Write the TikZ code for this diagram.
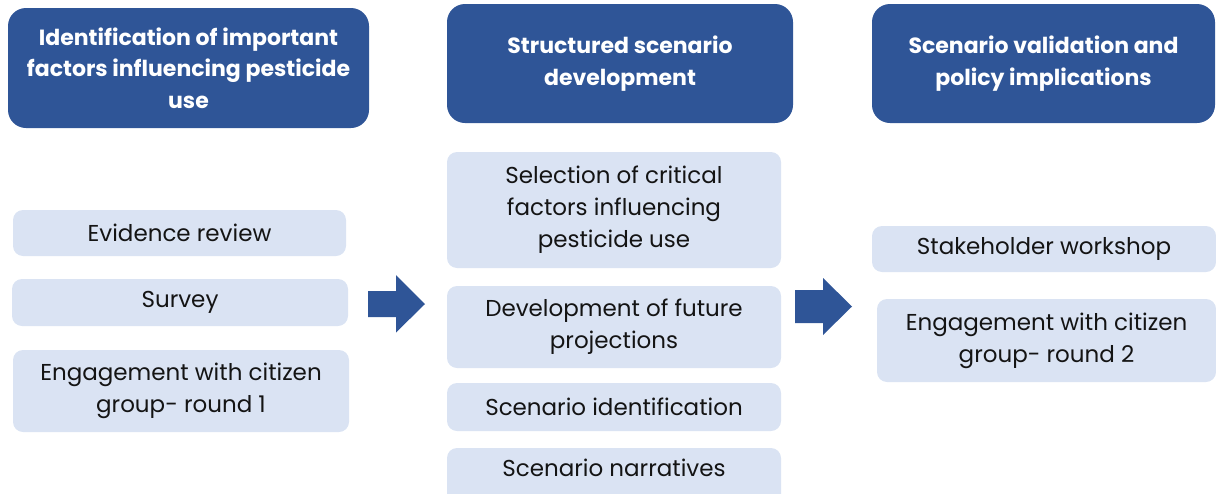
\documentclass[tikz,border=0pt]{standalone}
\usepackage{fontspec}
\setmainfont{Poppins}
\definecolor{hdrblue}{HTML}{2F5597}
\definecolor{lightbox}{HTML}{DAE3F3}
\begin{document}
\begin{tikzpicture}[x=1pt,y=-1pt,
  hdr/.style={fill=hdrblue, rounded corners=18pt, text=white, align=center, inner sep=0pt,
    font=\bfseries\fontsize{22}{31.5}\selectfont},
  lb/.style={fill=lightbox, rounded corners=10pt, text=black!92, align=center, inner sep=0pt,
    font=\fontsize{23}{32}\selectfont},
  blockarrow/.style={fill=hdrblue}]
\useasboundingbox (0,0) rectangle (1216,493);
% headers
\node[hdr, minimum width=361pt, minimum height=120pt] (h1) at (188.5,68) {Identification of important\\factors influencing pesticide\\use};
\node[hdr, minimum width=346pt, minimum height=119pt] (h2) at (620,63.5) {Structured scenario\\development};
\node[hdr, minimum width=343pt, minimum height=119pt] (h3) at (1043.5,63.5) {Scenario validation and\\policy implications};
% left column
\node[lb, minimum width=333pt, minimum height=46pt] (ev) at (179.5,233) {Evidence review};
\node[lb, minimum width=336pt, minimum height=47pt] (sv) at (180,302.5) {Survey};
\node[lb, minimum width=336pt, minimum height=82pt] (en1) at (181,391) {Engagement with citizen\\group- round 1};
% middle column
\node[lb, minimum width=334pt, minimum height=116pt] (sel) at (614,210) {Selection of critical\\factors influencing\\pesticide use};
\node[lb, minimum width=334pt, minimum height=82pt] (dev) at (614,327) {Development of future\\projections};
\node[lb, minimum width=334pt, minimum height=48pt] (sid) at (614,407) {Scenario identification};
\node[lb, minimum width=334pt, minimum height=56pt] (snar) at (614,476) {\raisebox{8pt}[\height][\depth]{Scenario narratives}};
% right column
\node[lb, minimum width=344pt, minimum height=46pt] (sw) at (1044,249) {Stakeholder workshop};
\node[lb, minimum width=339pt, minimum height=83pt] (en2) at (1046.5,340.5) {Engagement with citizen\\group- round 2};
% block arrows
\coordinate (a1) at (368,304);
\coordinate (a2) at (795,306.5);
\fill[blockarrow] (a1) ++(0,-13) -- ++(28,0) -- ++(0,-16) -- ++(29,29) -- ++(-29,28.5) -- ++(0,-15.5) -- ++(-28,0) -- cycle;
\fill[blockarrow] (a2) ++(0,-16.5) -- ++(28,0) -- ++(0,-12) -- ++(29,28.5) -- ++(-29,28.5) -- ++(0,-12) -- ++(-28,0) -- cycle;
\end{tikzpicture}
\end{document}
